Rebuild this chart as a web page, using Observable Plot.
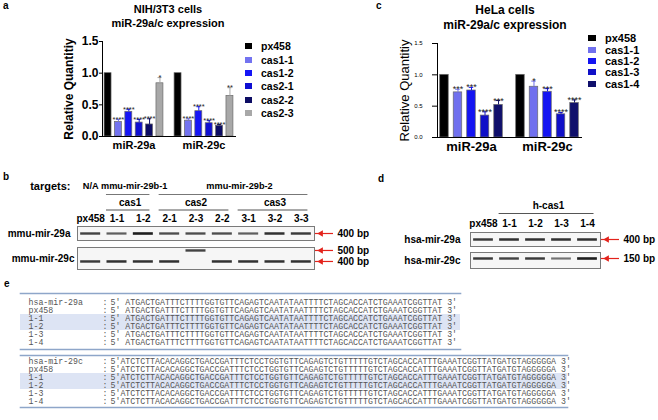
<!DOCTYPE html>
<html><head><meta charset="utf-8">
<script src="https://cdn.jsdelivr.net/npm/d3@7"></script>
<script src="https://cdn.jsdelivr.net/npm/@observablehq/plot@0.6"></script>
<style>
html,body{margin:0;padding:0;background:#fff;}
#fig{position:relative;width:658px;height:420px;overflow:hidden;font-family:"Liberation Sans",Arial,sans-serif;color:#000;background:#fff;}
.plabel{position:absolute;font-weight:bold;font-size:10px;line-height:10px;}
.title{position:absolute;text-align:center;font-weight:bold;white-space:nowrap;}
.legend{position:absolute;font-weight:bold;}
.legend .item{display:flex;align-items:center;white-space:nowrap;}
.legend .sw{display:inline-block;flex:none;}
</style></head>
<body><div id="fig"></div>
<script>
// ---------------- data ----------------
const groups = ["miR-29a", "miR-29c"];
const yTicks = [0, 0.5, 1.0, 1.5];
const yTitle = "Relative Quantitiy";

// panel a : NIH/3T3
const nihSamples = ["px458", "cas1-1", "cas1-2", "cas2-1", "cas2-2", "cas2-3"];
const nihColors  = ["#000000", "#7373f0", "#1515f6", "#0f0fd2", "#0c0c64", "#a8a8a8"];
const nih29a     = [1.00, 0.23, 0.39, 0.22, 0.19, 0.84];
const nih29aErr  = [0, 0.04, 0.04, 0.05, 0.09, 0.09];
const nih29aSig  = ["", "****", "****", "****", "****", "*"];
const nih29c     = [1.00, 0.25, 0.40, 0.21, 0.17, 0.64];
const nih29cErr  = [0, 0.03, 0.07, 0.04, 0.02, 0.13];
const nih29cSig  = ["", "****", "****", "****", "****", "**"];

// panel c : HeLa
const helaSamples = ["px458", "cas1-1", "cas1-2", "cas1-3", "cas1-4"];
const helaColors  = ["#000000", "#7070ee", "#1414f2", "#1010c8", "#10106c"];
const hela29a     = [1.00, 0.72, 0.75, 0.35, 0.52];
const hela29aErr  = [0, 0.05, 0.05, 0.06, 0.07];
const hela29aSig  = ["", "***", "***", "****", "***"];
const hela29c     = [1.00, 0.81, 0.73, 0.37, 0.55];
const hela29cErr  = [0, 0.09, 0.05, 0.03, 0.05];
const hela29cSig  = ["", "*", "***", "****", "****"];

// panel b : mouse gel
const bLanes        = ["px458", "1-1", "1-2", "2-1", "2-3", "2-2", "3-1", "3-2", "3-3"];
const bTargetLabels = ["N/A", "mmu-mir-29b-1", "mmu-mir-29b-2"];
const bTargetLanes  = [["px458"], ["1-1", "1-2"], ["2-1", "2-3", "2-2", "3-1", "3-2", "3-3"]];
const bGuideLabels  = ["cas1", "cas2", "cas3"];
const bGuideLanes   = [["1-1", "1-2"], ["2-1", "2-3", "2-2"], ["3-1", "3-2", "3-3"]];
const b29aSize      = [400, 400, 400, 400, 400, 400, 400, 400, 400];
const b29aLevel     = [0.80, 0.65, 1.00, 0.75, 0.75, 0.75, 0.65, 0.90, 0.85];
const b29cSize      = [400, 400, 400, 400, 500, 400, 400, 400, 400];
const b29cLevel     = [0.85, 0.90, 0.90, 0.90, 0.80, 0.90, 0.90, 0.90, 0.90];
const bMarkers29a   = [400];
const bMarkers29c   = [500, 400];

// panel d : human gel
const dLanes       = ["px458", "1-1", "1-2", "1-3", "1-4"];
const dGuideLabels = ["h-cas1"];
const dGuideLanes  = [["1-1", "1-2", "1-3", "1-4"]];
const d29aSize     = [400, 400, 400, 400, 400];
const d29aLevel    = [0.85, 0.90, 0.90, 0.90, 0.90];
const d29cSize     = [150, 150, 150, 150, 150];
const d29cLevel    = [0.85, 0.80, 0.85, 0.55, 1.00];
const dMarkers29a  = [400];
const dMarkers29c  = [150];

// panel e : sequences
const seq29a = "ATGACTGATTTCTTTTGGTGTTCAGAGTCAATATAATTTTCTAGCACCATCTGAAATCGGTTAT";
const seq29c = "ATCTCTTACACAGGCTGACCGATTTCTCCTGGTGTTCAGAGTCTGTTTTTGTCTAGCACCATTTGAAATCGGTTATGATGTAGGGGGA";
const e29aLabels = ["hsa-mir-29a", "px458", "1-1", "1-2", "1-3", "1-4"];
const e29aSeqs   = [seq29a, seq29a, seq29a, seq29a, seq29a, seq29a];
const e29cLabels = ["hsa-mir-29c", "px458", "1-1", "1-2", "1-3", "1-4"];
const e29cSeqs   = [seq29c, seq29c, seq29c, seq29c, seq29c, seq29c];
const eHighlight = ["1-1", "1-2"];

// ---------------- helpers ----------------
const FONT = "'Liberation Sans', Arial, sans-serif";
const SVG_STYLE = "background:transparent;overflow:visible;max-width:none;display:block;font-family:" + FONT + ";";
const RED = "#e3231c";
const fig = document.getElementById("fig");

function place(el, left, top) {
  const w = document.createElement("div");
  w.style.cssText = `position:absolute;left:${left}px;top:${top}px;`;
  w.appendChild(el);
  fig.appendChild(w);
}
function html(cls, text, css) {
  const d = document.createElement("div");
  d.className = cls;
  d.innerHTML = text;
  d.style.cssText = css;
  fig.appendChild(d);
}

function barChart(o) {
  const rows = groups.flatMap((g, gi) => o.samples.map((s, si) => ({
    group: g, sample: s, value: o.vals[gi][si], err: o.errs[gi][si], sig: o.sigs[gi][si]
  })));
  const withErr = rows.filter(d => d.err > 0);
  return Plot.plot({
    width: o.W, height: o.H,
    marginLeft: o.mL, marginRight: o.mR, marginTop: o.mT, marginBottom: o.mB,
    style: SVG_STYLE,
    fx: {domain: groups, paddingInner: o.fxPad[0], paddingOuter: o.fxPad[1], label: null},
    x: {domain: o.samples, paddingInner: o.xPad[0], paddingOuter: o.xPad[1], axis: null, round: false},
    y: {domain: [0, 1.5]},
    color: {domain: o.samples, range: o.colors},
    marks: [
      Plot.barY(rows, {fx: "group", x: "sample", y: "value", fill: "sample", stroke: "#6a6a6a", strokeWidth: 0.7}),
      Plot.ruleX(withErr, {fx: "group", x: "sample", y1: "value", y2: d => d.value + d.err, stroke: "sample", strokeWidth: 1}),
      Plot.tickY(withErr, {fx: "group", x: "sample", y: d => d.value + d.err, stroke: "sample", inset: o.capInset}),
      Plot.text(rows.filter(d => d.sig), {fx: "group", x: "sample", y: d => d.value + d.err, text: "sig",
        lineAnchor: "bottom", dy: o.sigDy, fontSize: o.sigFont, fill: "#222"}),
      Plot.axisY({ticks: yTicks, tickFormat: d3.format(".1f"), tickSize: o.tickSize, tickPadding: o.tickPad,
        fontSize: o.tickFont, fontWeight: o.tickBold ? "bold" : "normal", label: null}),
      Plot.axisFx({anchor: "bottom", tickSize: 0, tickPadding: o.xPadText, fontSize: o.xFont, fontWeight: "bold", label: null}),
      Plot.frame({anchor: "left", facet: "super"}),
      Plot.frame({anchor: "bottom", facet: "super"}),
      Plot.text([yTitle], {facet: "super", frameAnchor: "left", textAnchor: "middle", dx: o.yTitleDx, rotate: -90,
        fontSize: o.yTitleFont, fontWeight: o.yTitleBold ? "bold" : "normal"})
    ]
  });
}

function legend(samples, colors, o) {
  const d = document.createElement("div");
  d.className = "legend";
  d.style.cssText = `left:${o.left}px;top:${o.top}px;font-size:${o.font}px;`;
  samples.forEach((s, i) => {
    const it = document.createElement("div");
    it.className = "item";
    it.style.height = o.rowH + "px";
    it.innerHTML = `<span class="sw" style="width:${o.sw}px;height:${o.swH}px;background:${colors[i]};margin-right:${o.gap}px"></span><span>${s}</span>`;
    d.appendChild(it);
  });
  fig.appendChild(d);
}

function gelHeader(o) {
  const idx = l => o.lanes.indexOf(l);
  const marks = [];
  for (const lv of o.levels) {
    const g = lv.labels.map((label, i) => ({
      label, lo: d3.min(lv.lanes[i], idx), hi: d3.max(lv.lanes[i], idx), n: lv.lanes[i].length
    }));
    const txt = {x: d => (d.lo + d.hi) / 2, y: () => lv.key, text: "label", fontSize: lv.font || o.font, fontWeight: "bold"};
    marks.push(Plot.text(g.filter(d => d.n === 1), txt));
    marks.push(Plot.text(g.filter(d => d.n > 1), {...txt, dx: lv.dx || 0}));
    marks.push(Plot.ruleY(g.filter(d => d.n > 1), {y: () => lv.key, x1: d => d.lo - 0.4, x2: d => d.hi + 0.25,
      dy: lv.ruleDy, stroke: lv.ruleStroke, strokeWidth: 1.2}));
  }
  marks.push(Plot.text(o.lanes, {x: (d, i) => i, y: () => "lane", text: d => d, fontSize: o.font, fontWeight: "bold"}));
  if (o.caption) marks.push(Plot.text([o.caption], {frameAnchor: "left", y: () => o.levels[0].key,
    textAnchor: "end", dx: -7, fontSize: o.captionFont || o.font, fontWeight: "bold"}));
  return Plot.plot({
    width: o.W, height: o.H, marginLeft: o.mL, marginRight: o.mR, marginTop: o.mT, marginBottom: o.mB,
    style: SVG_STYLE,
    x: {domain: [-0.5, o.lanes.length - 0.5], axis: null},
    y: {type: "point", domain: [...o.levels.map(l => l.key), "lane"], padding: 0, axis: null},
    marks
  });
}

function gelRow(o) {
  const shade = d3.interpolateRgb("#d8d8d8", "#1e1e1e");
  const bands = o.lanes.map((l, i) => ({i, bp: o.sizes[i], c: shade(o.level[i]), w: 1.6 + o.level[i] * 1.0}));
  return Plot.plot({
    width: o.W, height: o.H, marginLeft: o.mL, marginRight: o.mR, marginTop: o.mT, marginBottom: o.mB,
    style: SVG_STYLE,
    x: {domain: [-0.5, o.lanes.length - 0.5], axis: null},
    y: {domain: o.yDomain},
    marks: [
      Plot.frame({fill: "#f6f6f6", stroke: "#7a7a7a", strokeWidth: 1}),
      Plot.ruleY(bands, {y: "bp", x1: d => d.i - 0.38, x2: d => d.i + 0.38, stroke: d => d.c, strokeWidth: d => d.w}),
      Plot.text([o.label], {frameAnchor: "left", dx: o.labelDx, textAnchor: "end", fontSize: 10, fontWeight: "bold"}),
      Plot.axisY({anchor: "right", ticks: o.markers, tickFormat: d => d + " bp", tickSize: 18, tickPadding: 5,
        stroke: RED, fill: "#000", strokeWidth: 1.2, fontSize: 10, fontWeight: "bold", label: null}),
      Plot.dot(o.markers, {y: d => d, frameAnchor: "right", dx: 6.5, symbol: "triangle", r: 2.4, rotate: -90,
        fill: RED, stroke: null})
    ]
  });
}

function seqBlock(o) {
  const rows = o.labels.map((l, i) => ({label: l, seq: o.seqs[i]}));
  const common = {y: "label", frameAnchor: "left", fontFamily: "'Liberation Mono', 'DejaVu Sans Mono', monospace",
    fontSize: 8.25, fill: "#555"};
  return Plot.plot({
    width: o.W, height: o.H, marginLeft: 20, marginRight: o.mR, marginTop: o.mT, marginBottom: o.mB,
    style: SVG_STYLE,
    x: {domain: [0, 1], axis: null},
    y: {domain: o.labels, range: o.yRange, paddingInner: 0, paddingOuter: 0, axis: null},
    marks: [
      Plot.barX(eHighlight, {y: d => d, x1: 0, x2: 1, fill: "#dde4f4"}),
      Plot.frame({anchor: "top", stroke: "#8ea6c9", strokeWidth: 1.6}),
      Plot.frame({anchor: "bottom", stroke: "#8ea6c9", strokeWidth: 1.6}),
      Plot.text(rows, {...common, text: "label", dx: 8, textAnchor: "start"}),
      Plot.text(rows, {...common, text: () => ":", dx: 82}),
      Plot.text(rows, {...common, text: d => o.prefix + d.seq + " 3'", dx: 90, textAnchor: "start"})
    ]
  });
}

// ---------------- panel a ----------------
html("plabel", "a", "left:3px;top:1px;");
html("title", "NIH/3T3 cells<br>miR-29a/c expression", "left:100px;top:3px;width:136px;font-size:11px;line-height:13.5px;");
place(barChart({
  samples: nihSamples, colors: nihColors, vals: [nih29a, nih29c], errs: [nih29aErr, nih29cErr], sigs: [nih29aSig, nih29cSig],
  W: 240, H: 160, mL: 99, mR: 2, mT: 41, mB: 24,
  fxPad: [0.1, 0.03], xPad: [0.33, 0.2], capInset: 1.5,
  sigFont: 7.5, sigDy: 2.5, tickFont: 12, tickBold: true, tickSize: 3, tickPad: 1,
  xFont: 11, xPadText: 5, yTitleDx: -33, yTitleFont: 12, yTitleBold: true
}), 0, 0);
legend(nihSamples, nihColors, {left: 245, top: 39.5, rowH: 13.4, sw: 7, swH: 6, gap: 9, font: 10.5});

// ---------------- panel c ----------------
html("plabel", "c", "left:376px;top:1px;");
html("title", "HeLa cells<br>miR-29a/c expression", "left:425px;top:3px;width:160px;font-size:12px;line-height:15px;");
place(barChart({
  samples: helaSamples, colors: helaColors, vals: [hela29a, hela29c], errs: [hela29aErr, hela29cErr], sigs: [hela29aSig, hela29cSig],
  W: 260, H: 160, mL: 105, mR: 7, mT: 43, mB: 23,
  fxPad: [0.11, 0.02], xPad: [0.37, 0.2], capInset: 2,
  sigFont: 9, sigDy: 3, tickFont: 6, tickBold: false, tickSize: 5, tickPad: 10,
  xFont: 13, xPadText: 4, yTitleDx: -33, yTitleFont: 13, yTitleBold: false
}), 330, 0);
legend(helaSamples, helaColors, {left: 588, top: 32.5, rowH: 11.4, sw: 8, swH: 6, gap: 9, font: 11});

// ---------------- panel b ----------------
html("plabel", "b", "left:3px;top:172px;");
place(gelHeader({
  lanes: bLanes, caption: "targets:", font: 10, captionFont: 11,
  levels: [
    {key: "target", labels: bTargetLabels, lanes: bTargetLanes, ruleDy: 8, ruleStroke: "#777", font: 9.2, dx: 4},
    {key: "guide", labels: bGuideLabels, lanes: bGuideLanes, ruleDy: 7.5, ruleStroke: "#555"}
  ],
  W: 340, H: 50, mL: 77, mR: 26, mT: 9, mB: 8
}), 0, 176);
place(gelRow({lanes: bLanes, sizes: b29aSize, level: b29aLevel, markers: bMarkers29a, label: "mmu-mir-29a",
  yDomain: [350, 450], labelDx: -7, W: 400, H: 22, mL: 77, mR: 86, mT: 4, mB: 4}), 0, 222);
place(gelRow({lanes: bLanes, sizes: b29cSize, level: b29cLevel, markers: bMarkers29c, label: "mmu-mir-29c",
  yDomain: [327, 527], labelDx: -3, W: 400, H: 30, mL: 77, mR: 86, mT: 4, mB: 4}), 0, 243);

// ---------------- panel d ----------------
html("plabel", "d", "left:378px;top:174px;");
place(gelHeader({
  lanes: dLanes, caption: null, font: 10,
  levels: [{key: "guide", labels: dGuideLabels, lanes: dGuideLanes, ruleDy: 8, ruleStroke: "#555"}],
  W: 278, H: 34, mL: 90, mR: 58, mT: 10, mB: 6
}), 380, 195);
place(gelRow({lanes: dLanes, sizes: d29aSize, level: d29aLevel, markers: dMarkers29a, label: "hsa-mir-29a",
  yDomain: [350, 450], labelDx: -10, W: 278, H: 22, mL: 90, mR: 58, mT: 4, mB: 4}), 380, 228);
place(gelRow({lanes: dLanes, sizes: d29cSize, level: d29cLevel, markers: dMarkers29c, label: "hsa-mir-29c",
  yDomain: [100, 180], labelDx: -10, W: 278, H: 24, mL: 90, mR: 58, mT: 4, mB: 4}), 380, 248);

// ---------------- panel e ----------------
html("plabel", "e", "left:4px;top:279px;");
place(seqBlock({labels: e29aLabels, seqs: e29aSeqs, prefix: "5' ", W: 470, H: 62, mR: 10, mT: 3, mB: 3,
  yRange: [7.6, 57.1]}), 0, 290);
place(seqBlock({labels: e29cLabels, seqs: e29cSeqs, prefix: "5'", W: 577, H: 58, mR: 10, mT: 3, mB: 3,
  yRange: [3.9, 53.1]}), 0, 352);
</script></body></html>
